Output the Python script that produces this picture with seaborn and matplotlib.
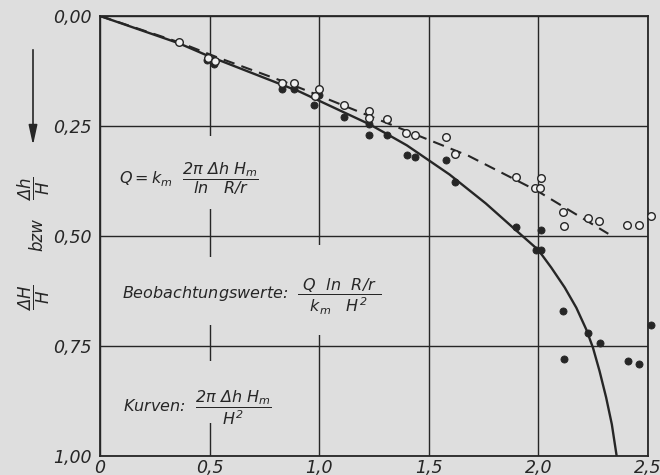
import matplotlib
matplotlib.use("Agg")
import matplotlib.pyplot as plt
import seaborn as sns
from matplotlib.patches import Rectangle

# ---------------- data ----------------
open_x = [0.362, 0.494, 0.525, 0.832, 0.885, 0.999, 0.979, 1.112, 1.229, 1.229,
          1.309, 1.398, 1.439, 1.578, 1.620, 1.899, 2.010, 1.986, 2.008, 2.113,
          2.117, 2.225, 2.278, 2.404, 2.459, 2.513]
open_y = [0.058, 0.095, 0.103, 0.152, 0.152, 0.166, 0.181, 0.202, 0.217, 0.232,
          0.235, 0.266, 0.271, 0.274, 0.314, 0.365, 0.369, 0.391, 0.392, 0.446,
          0.478, 0.459, 0.465, 0.474, 0.474, 0.454]

filled_x = [0.490, 0.520, 0.832, 0.884, 0.999, 0.978, 1.112, 1.229, 1.229, 1.308,
            1.400, 1.439, 1.578, 1.620, 1.899, 2.010, 1.988, 2.010, 2.112, 2.226,
            2.281, 2.514, 2.119, 2.407, 2.457]
filled_y = [0.101, 0.109, 0.166, 0.165, 0.180, 0.202, 0.229, 0.246, 0.270, 0.270,
            0.317, 0.321, 0.328, 0.378, 0.480, 0.486, 0.531, 0.531, 0.671, 0.720,
            0.743, 0.702, 0.780, 0.783, 0.791]

solid_x = [0.0, 0.36, 0.49, 0.911, 1.229, 1.308, 1.40, 1.594, 1.76, 1.90, 2.0,
           2.059, 2.12, 2.173, 2.218, 2.249, 2.279, 2.309, 2.335, 2.357]
solid_y = [0.0, 0.062, 0.09, 0.172, 0.246, 0.268, 0.294, 0.360, 0.426, 0.488, 0.532,
           0.572, 0.617, 0.663, 0.712, 0.754, 0.807, 0.867, 0.928, 1.0]

dashed_x = [0.0, 0.362, 0.53, 0.865, 1.318, 1.682, 1.993, 2.319]
dashed_y = [0.0, 0.060, 0.093, 0.154, 0.245, 0.318, 0.397, 0.495]

x_ticks = [0.0, 0.5, 1.0, 1.5, 2.0, 2.5]
x_labels = ["0", "0,5", "1,0", "1,5", "2,0", "2,5"]
y_ticks = [0.0, 0.25, 0.5, 0.75, 1.0]
y_labels = ["0,00", "0,25", "0,50", "0,75", "1,00"]

# ---------------- style ----------------
BG = "#dedede"
INK = "#262626"

sns.set_theme(style="white")
plt.rcParams.update({
    "font.family": ["DejaVu Sans"],
    "font.style": "italic",
    "mathtext.fontset": "custom",
    "mathtext.rm": "DejaVu Sans:italic",
    "mathtext.it": "DejaVu Sans:italic",
    "mathtext.sf": "DejaVu Sans:italic",
    "mathtext.bf": "DejaVu Sans:italic:bold",
    "text.color": INK,
})

fig = plt.figure(figsize=(6.6, 4.75), dpi=100, facecolor=BG)
ax = fig.add_axes([100 / 660, 19 / 475, 548 / 660, 440 / 475])
ax.set_facecolor(BG)

# curves
sns.lineplot(x=solid_x, y=solid_y, sort=False, estimator=None, color=INK,
             linewidth=1.7, ax=ax, zorder=2)
sns.lineplot(x=dashed_x, y=dashed_y, sort=False, estimator=None, color=INK,
             linewidth=1.5, ax=ax, zorder=2)
ax.lines[-1].set_dashes([5.5, 3.5])

# points
sns.scatterplot(x=filled_x, y=filled_y, s=26, color=INK, edgecolor=INK,
                linewidth=0.6, ax=ax, zorder=3)
ax.collections[-1].set_clip_on(False)
sns.scatterplot(x=open_x, y=open_y, s=30, color="#f0f0f0", edgecolor=INK,
                linewidth=1.0, ax=ax, zorder=4)
ax.collections[-1].set_clip_on(False)

ax.set_xlim(0, 2.5)
ax.set_ylim(1.0, 0.0)
ax.set_xticks(x_ticks)
ax.set_xticklabels(x_labels)
ax.set_yticks(y_ticks)
ax.set_yticklabels(y_labels)
ax.tick_params(length=0, labelsize=12.5, colors=INK)
ax.tick_params(axis="y", pad=6)
ax.tick_params(axis="x", pad=2)
for lab in ax.get_xticklabels() + ax.get_yticklabels():
    lab.set_fontstyle("italic")
ax.set_xlabel("")
ax.set_ylabel("")

ax.set_axisbelow(True)
ax.grid(True, color=INK, linewidth=1.0)
for sp in ax.spines.values():
    sp.set_visible(True)
    sp.set_color(INK)
    sp.set_linewidth(1.3)

# gaps in grid around labels
for (gx, gy, gw, gh) in [(0.06, 0.272, 0.72, 0.166),
                         (0.08, 0.548, 0.72, 0.155),
                         (0.80, 0.52, 0.60, 0.205),
                         (0.08, 0.783, 0.77, 0.142)]:
    ax.add_patch(Rectangle((gx, gy), gw, gh, facecolor=BG, edgecolor="none", zorder=1))

# formula texts
ax.text(0.087, 0.37, r"$Q = k_m\ \ \dfrac{2\pi\ \Delta h\ H_m}{\mathrm{ln}\ \ \ R/r}$",
        ha="left", va="center", fontsize=11.5, zorder=5)
ax.text(0.10, 0.638,
        r"Beobachtungswerte:  $\dfrac{\ Q\ \ \mathrm{ln}\ \ R/r\ }{k_m\ \ \ H^2}$",
        ha="left", va="center", fontsize=11.5, zorder=5)
ax.text(0.105, 0.89, r"Kurven:  $\dfrac{2\pi\ \Delta h\ H_m}{H^2}$",
        ha="left", va="center", fontsize=11.5, zorder=5)

# y-axis label with arrow
fig.text(0.0515, 1 - 189 / 475, r"$\dfrac{\Delta h}{H}$", rotation=90,
         ha="center", va="center", fontsize=12)
fig.text(0.057, 1 - 235 / 475, "bzw", rotation=90, ha="center", va="center",
         fontsize=12, style="italic")
fig.text(0.0515, 1 - 298 / 475, r"$\dfrac{\Delta H}{H}$", rotation=90,
         ha="center", va="center", fontsize=12)
fig.patches.append(matplotlib.patches.FancyArrowPatch(
    (33 / 660, 1 - 47 / 475), (33 / 660, 1 - 148 / 475),
    transform=fig.transFigure, figure=fig,
    arrowstyle="-|>,head_length=0.6,head_width=0.13", mutation_scale=20,
    color=INK, linewidth=1.2))

fig.savefig("out.png", dpi=100, facecolor=BG)
